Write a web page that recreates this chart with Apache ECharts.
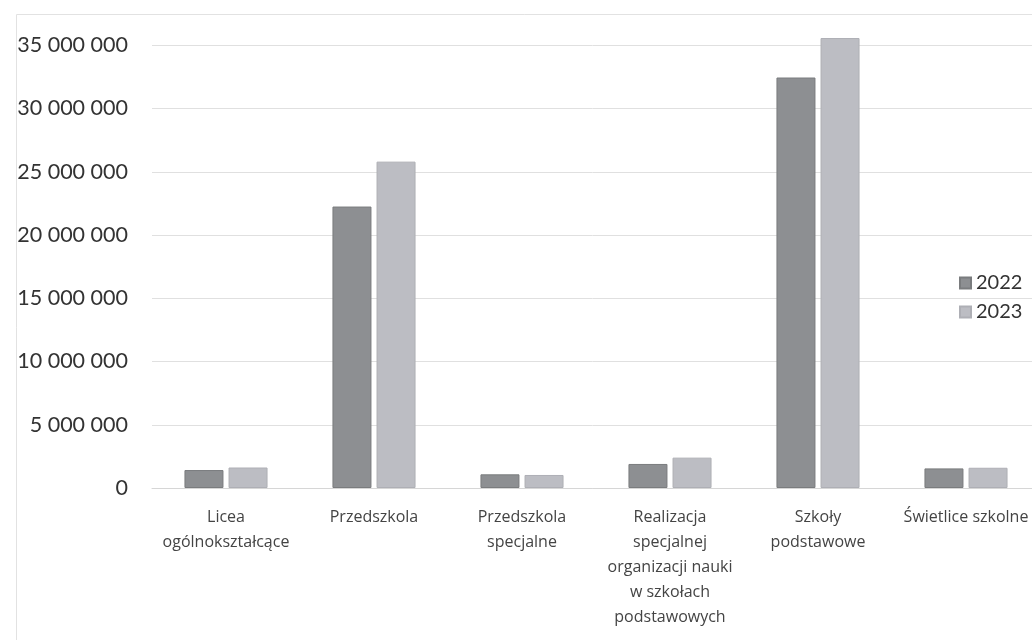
<!DOCTYPE html>
<html>
<head>
<meta charset="utf-8">
<script src="https://cdn.jsdelivr.net/npm/echarts@6/dist/echarts.min.js"></script>
<style>html,body{margin:0;padding:0;background:#fff;}#c{width:1032px;height:640px;}</style>
</head>
<body>
<div id="c"></div>
<script>
const categories = [
  "Licea\nogólnokształcące",
  "Przedszkola",
  "Przedszkola\nspecjalne",
  "Realizacja\nspecjalnej\norganizacji nauki\nw szkołach\npodstawowych",
  "Szkoły\npodstawowe",
  "Świetlice szkolne"
];
const seriesNames = ["2022", "2023"];
const values2022 = [1420000, 22250000, 1080000, 1900000, 32450000, 1550000];
const values2023 = [1620000, 25800000, 1030000, 2400000, 35570000, 1600000];
const yTicks = [0, 5000000, 10000000, 15000000, 20000000, 25000000, 30000000, 35000000, 40000000];

const chart = echarts.init(document.getElementById('c'));
const fmt = v => String(v).replace(/\B(?=(\d{3})+(?!\d))/g, ' ');
chart.setOption({
  animation: false,
  backgroundColor: '#fff',
  textStyle: { fontFamily: 'Lato' },
  graphic: [{
    type: 'rect', left: 14, top: 12, silent: true, z: 10,
    shape: { width: 1100, height: 700 },
    style: { fill: 'none', stroke: '#e2e2e2', lineWidth: 1 }
  }, {
    type: 'rect', left: 0, top: 0, silent: true, z: 9,
    shape: { width: 1032, height: 12 },
    style: { fill: '#fff' }
  }],
  grid: { left: 152, top: -18, bottom: 152, right: -8, containLabel: false, outerBoundsMode: 'none' },
  legend: {
    orient: 'vertical', left: 954, top: 268,
    itemWidth: 11, itemHeight: 11, itemGap: 9,
    icon: 'rect',
    textStyle: { fontSize: 20, color: '#333', fontFamily: 'Lato' },
    data: seriesNames
  },
  xAxis: {
    type: 'category', data: categories,
    axisLine: { lineStyle: { color: '#d6d6d6' } },
    axisTick: { show: false },
    axisLabel: { interval: 0, fontSize: 16, lineHeight: 25, color: '#444', margin: 17, fontFamily: 'Open Sans' }
  },
  yAxis: {
    type: 'value', min: yTicks[0], max: yTicks[yTicks.length - 1], interval: yTicks[1] - yTicks[0],
    axisLine: { show: false }, axisTick: { show: false },
    splitLine: { lineStyle: { color: '#e0e0e0' } },
    axisLabel: { fontSize: 21.5, color: '#333', margin: 24, formatter: fmt, fontFamily: 'Lato', showMaxLabel: false }
  },
  series: [
    { name: seriesNames[0], type: 'bar', data: values2022, barWidth: 39, barGap: '13%',
      itemStyle: { color: '#8d8f92', borderColor: '#7a7c7e', borderWidth: 1 } },
    { name: seriesNames[1], type: 'bar', data: values2023, barWidth: 39,
      itemStyle: { color: '#bcbdc3', borderColor: '#aeafb5', borderWidth: 1 } }
  ]
});
</script>
</body>
</html>
